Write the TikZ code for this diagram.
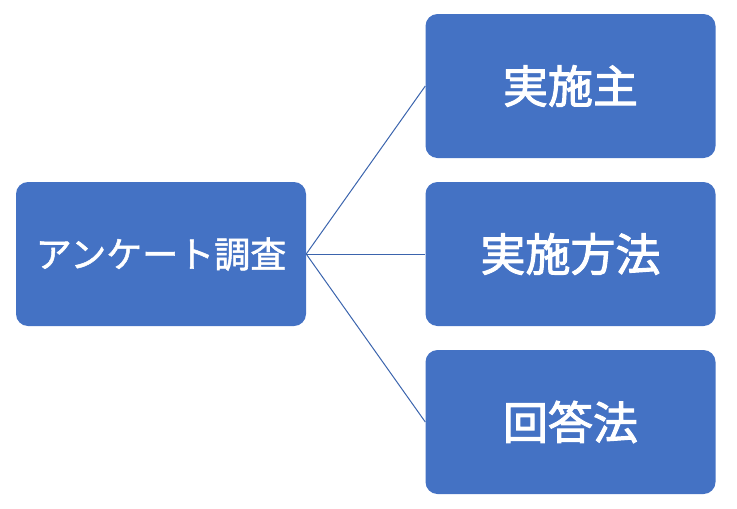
\documentclass[tikz,border=0pt]{standalone}
\usepackage{fontspec}
\newfontfamily\jp[FakeBold=1.4]{Noto Sans CJK JP}
\newfontfamily\jpb[FakeBold=2.2]{Noto Sans CJK JP}
\definecolor{boxblue}{HTML}{4472C4}
\definecolor{lineblue}{HTML}{3B64AD}
\begin{document}
\begin{tikzpicture}[x=1pt,y=-1pt,
  box/.style={fill=boxblue,draw=none,rounded corners=12pt,minimum width=290pt,minimum height=144pt,inner sep=0pt,text=white},
  rootfont/.style={font=\jp\fontsize{36}{40}\selectfont},
  leaffont/.style={font=\jpb\fontsize{45}{50}\selectfont},
  conn/.style={draw=lineblue,line width=1pt}]
\useasboundingbox (0,0) rectangle (737,509);
\node[box,rootfont] (root) at (161,254) {\raisebox{1pt}{アンケート調査}};
\node[box,leaffont] (a) at (570.5,86) {\raisebox{3pt}{実施主}};
\node[box,leaffont] (b) at (570.5,254) {\raisebox{3pt}{実施方法}};
\node[box,leaffont] (c) at (570.5,422) {\raisebox{3pt}{回答法}};
\draw[conn] (root.east) -- (a.west);
\draw[conn] (root.east) -- (b.west);
\draw[conn] (root.east) -- (c.west);
\end{tikzpicture}
\end{document}
